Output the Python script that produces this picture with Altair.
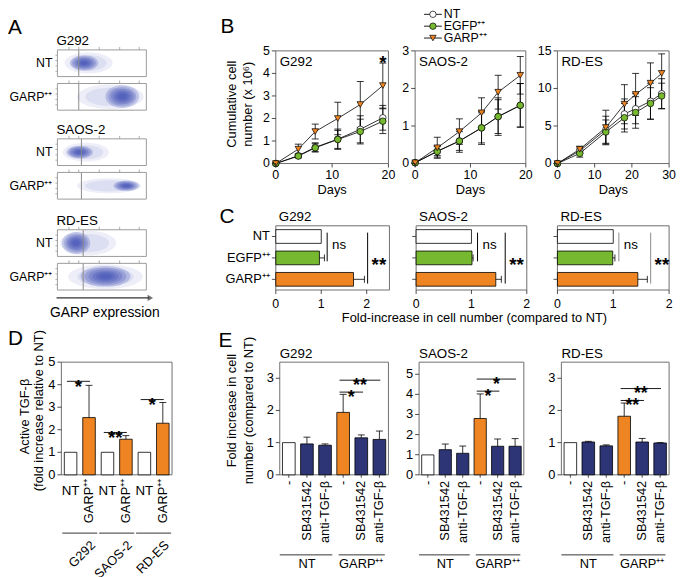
import altair as alt
import pandas as pd

FONT = "Liberation Sans"
ORANGE = "#EE8422"
GREEN = "#76B82F"
NAVY = "#2D3577"
WHITE = "#FFFFFF"
FRAME = "#6E6E6E"
CLOUD = "#3547B0"
TICK = "#222222"
W, H = 677, 569


def P(v):
    return v - 8


# ---------------- data ----------------
cell_lines = ["G292", "SAOS-2", "RD-ES"]
series = ["NT", "EGFP", "GARP"]
series_labels = ["NT", "EGFP⁺⁺", "GARP⁺⁺"]
series_fill = [WHITE, GREEN, ORANGE]
series_shape = ["circle", "circle", "triangle-down"]

# A: flow cytometry populations (% of axis range)
a_rows = ["NT", "GARP⁺⁺"]
a_gate = [24, 27, 29]
a_core_x = [[14, 46], [54, 92], [10, 40], [63, 92], [5, 37], [26, 82]]
a_core_y = [[22, 80], [8, 94], [26, 74], [30, 70], [8, 92], [12, 90]]
a_tail_x = [[8, 62], [22, 97], [6, 58], [22, 94], [3, 66], [12, 96]]
a_tail_y = [[12, 90], [4, 96], [15, 85], [22, 78], [4, 96], [4, 96]]
a_xticks = [13, 24, 47, 70, 92]
a_yticks = [20, 40, 60, 80]

# B: cumulative cell number
b_days = [[0, 4, 7, 11, 15, 19], [0, 4, 8, 12, 15, 19], [0, 6, 13, 18, 21, 25, 28]]
b_nt = [[0, 0.35, 0.72, 1.08, 1.52, 2.03], [0.02, 0.33, 0.6, 0.95, 1.25, 1.55], [0, 1.7, 4.5, 6.6, 7.3, 8.3, 9.3]]
b_nt_err = [[0, 0.08, 0.2, 0.45, 0.6, 0.55], [0, 0.12, 0.3, 0.44, 0.5, 0.58], [0, 0.35, 1.8, 2.0, 2.0, 2.4, 2.0]]
b_egfp = [[0, 0.33, 0.7, 1.07, 1.42, 1.88], [0.02, 0.32, 0.6, 0.95, 1.25, 1.55], [0, 1.35, 4.2, 6.1, 6.8, 8.0, 9.0]]
b_egfp_err = [[0, 0.08, 0.18, 0.4, 0.55, 0.55], [0, 0.15, 0.25, 0.4, 0.45, 0.58], [0, 0.5, 1.6, 1.9, 2.1, 2.1, 1.7]]
b_garp = [[0, 0.64, 1.42, 2.0, 2.62, 3.46], [0.02, 0.42, 0.85, 1.35, 1.9, 2.35], [0, 1.9, 4.8, 7.9, 9.2, 10.7, 12.0]]
b_garp_err = [[0, 0.22, 0.33, 0.72, 1.02, 1.0], [0, 0.28, 0.34, 0.4, 0.45, 0.5], [0, 0.4, 2.3, 2.6, 2.8, 2.7, 2.6]]
b_xmax = [20, 20, 30]
b_ymax = [5, 3, 15]
b_xticks = [[0, 10, 20], [0, 10, 20], [0, 10, 20, 30]]
b_yticks = [[0, 1, 2, 3, 4, 5], [0, 1, 2, 3], [0, 5, 10, 15]]
b_star = [19, 4.62]

# C: fold increase in cell number
c_vals = [[1.0, 0.96, 1.71], [1.0, 1.01, 1.44], [1.0, 0.99, 1.44]]
c_errs = [[0, 0.11, 0.24], [0, 0.02, 0.1], [0, 0.04, 0.17]]
c_xmax = [2.5, 2, 2]
c_xticks = [0, 1, 2]
c_ns_x = [1.13, 1.11, 1.10]
c_star_x = [2.02, 1.61, 1.67]
c_sig_col = ["black", "black", "#8A8A8A"]

# D: active TGF-beta
d_labels = ["NT", "GARP⁺⁺"] * 3
d_vals = [1.0, 2.54, 1.0, 1.58, 1.0, 2.29]
d_errs = [0, 1.43, 0, 0.16, 0, 0.92]
d_cols = [WHITE, ORANGE] * 3
d_ymax = 5
d_yticks = [0, 1, 2, 3, 4, 5]
d_sig_y = [4.15, 1.88, 3.34]
d_sig_txt = ["*", "**", "*"]

# E: inhibitors
e_labels = ["-", "SB431542", "anti-TGF-β", "-", "SB431542", "anti-TGF-β"]
e_groups = ["NT", "GARP⁺⁺"]
e_cols = [WHITE, NAVY, NAVY, ORANGE, NAVY, NAVY]
e_vals = [[1.0, 0.96, 0.92, 1.94, 1.15, 1.1], [0.99, 1.25, 1.07, 2.8, 1.42, 1.42], [1.0, 1.02, 0.9, 1.82, 1.02, 0.99]]
e_errs = [[0, 0.21, 0.04, 0.56, 0.09, 0.26], [0, 0.28, 0.36, 1.22, 0.36, 0.38], [0, 0.02, 0.03, 0.41, 0.11, 0.01]]
e_ymax = [3.5, 5.6, 3.5]
e_yticks = [[0, 1, 2, 3], [0, 1, 2, 3, 4, 5], [0, 1, 2, 3]]
e_sig_y = [[2.94, 2.57], [4.76, 4.16], [2.68, 2.31]]
e_sig_txt = [["**", "*"], ["*", "*"], ["**", "**"]]

# ---------------- layout (page pixels) ----------------
A_X = (58, 148)
A_Y = [(47, 74), (81, 108), (137, 164), (171, 198), (229, 256), (263, 290)]
B_X = [(279, 393), (420, 532), (564, 677)]
B_Y = (48, 162)
C_X = [(279, 394), (421, 533), (564, 677)]
C_Y = (225, 290)
D_X = (62, 174)
D_Y = (363, 477)
E_X = [(283, 393), (424, 530), (568, 677)]
E_Y = (363, 477)

ONE = pd.DataFrame({"k": [0]})


def txt(s, x, y, size=12.5, align="left", baseline="alphabetic", angle=0, bold=False, color="black"):
    mk = dict(text=s, font=FONT, fontSize=size, align=align, baseline=baseline, color=color,
              fontWeight="bold" if bold else "normal")
    if angle:
        mk["angle"] = angle
    return alt.Chart(ONE).mark_text(**mk).encode(x=alt.value(P(x)), y=alt.value(P(y)))


def lin(dom, rng):
    return alt.Scale(domain=dom, range=rng, nice=False, zero=False)


def fmt(v):
    return str(int(v)) if float(v).is_integer() else str(v)


def x_axis(xs, values, ybot, labels=None, tick=4, pad=2, size=12.5, angle=0, color=TICK, show=True):
    df = pd.DataFrame({"v": values, "t": labels if labels is not None else [fmt(v) for v in values]})
    out = []
    if tick > 0:
        out.append(alt.Chart(df).mark_rule(color=color, strokeWidth=0.8).encode(
            x=alt.X("v:Q", scale=xs, axis=None), y=alt.value(P(ybot)), y2=alt.value(P(ybot + tick))))
    if show:
        if angle:
            mk = alt.Chart(df).mark_text(font=FONT, fontSize=size, angle=angle, align="right", baseline="middle")
        else:
            mk = alt.Chart(df).mark_text(font=FONT, fontSize=size, align="center", baseline="top")
        out.append(mk.encode(x=alt.X("v:Q", scale=xs, axis=None), y=alt.value(P(ybot + tick + pad)), text="t:N"))
    return out


def y_axis(ys, values, xleft, labels=None, tick=4, pad=2, size=12.5, color=TICK, show=True):
    df = pd.DataFrame({"v": values, "t": labels if labels is not None else [fmt(v) for v in values]})
    out = [alt.Chart(df).mark_rule(color=color, strokeWidth=0.8).encode(
        y=alt.Y("v:Q", scale=ys, axis=None), x=alt.value(P(xleft - tick)), x2=alt.value(P(xleft)))]
    if show:
        out.append(alt.Chart(df).mark_text(font=FONT, fontSize=size, align="right", baseline="middle",
                                           color="black").encode(
            y=alt.Y("v:Q", scale=ys, axis=None), x=alt.value(P(xleft - tick - pad)), text="t:N"))
    return out


def frame_layer(xs, ys, xd, yd, color=FRAME):
    df = pd.DataFrame({"a": [xd[0]], "b": [xd[1]], "c": [yd[0]], "d": [yd[1]]})
    return alt.Chart(df).mark_rect(fill="white", fillOpacity=0, stroke=color, strokeWidth=1).encode(
        x=alt.X("a:Q", scale=xs, axis=None), x2="b:Q",
        y=alt.Y("c:Q", scale=ys, axis=None), y2="d:Q")


def ellipse_path(k):
    c = 0.5523
    return ("M-1,0C-1,{a} {m},{k} 0,{k}C{c},{k} 1,{a} 1,0C1,{b} {c},{nk} 0,{nk}C{m},{nk} -1,{b} -1,0Z"
            .format(a=f"{c*k:.4f}", b=f"{-c*k:.4f}", k=f"{k:.4f}", nk=f"{-k:.4f}", c=c, m=-c))


def caps(df, xf, yf, xs, ys, vertical):
    shape = "M0,-1L0,1" if vertical else "M-1,0L1,0"
    return alt.Chart(df).mark_point(shape=shape, size=49, color="black", strokeWidth=0.8,
                                    filled=False, opacity=1).encode(
        x=alt.X(xf, scale=xs, axis=None), y=alt.Y(yf, scale=ys, axis=None))


layers = []


# ---------------- Panel A ----------------
def panel_A(i):
    x0, x1 = A_X
    y0, y1 = A_Y[i]
    xs = lin([0, 100], [P(x0), P(x1)])
    ys = lin([0, 100], [P(y1), P(y0)])
    pxu = (x1 - x0) / 100.0
    pyu = (y1 - y0) / 100.0
    rows = []
    for bx, by, levels, alpha in [
        (a_tail_x[i], a_tail_y[i], [1.0, 0.75], 0.09),
        (a_core_x[i], a_core_y[i], [1.0, 0.84, 0.68, 0.53, 0.39, 0.26], 0.23),
    ]:
        rx = (bx[1] - bx[0]) / 2 * pxu
        ry = (by[1] - by[0]) / 2 * pyu
        path = ellipse_path(ry / rx)
        for s in levels:
            rows.append(dict(cx=(bx[0] + bx[1]) / 2, cy=(by[0] + by[1]) / 2, shp=path,
                             sz=(2 * rx * s) ** 2, op=alpha))
    clouds = alt.Chart(pd.DataFrame(rows)).mark_point(filled=True, color=CLOUD, strokeWidth=0).encode(
        x=alt.X("cx:Q", scale=xs, axis=None), y=alt.Y("cy:Q", scale=ys, axis=None),
        shape=alt.Shape("shp:N", scale=None), size=alt.Size("sz:Q", scale=None),
        opacity=alt.Opacity("op:Q", scale=None))
    gate = alt.Chart(pd.DataFrame({"g": [a_gate[i // 2]], "lo": [0], "hi": [100]})).mark_rule(
        color="#8A8A8A", strokeWidth=1).encode(
        x=alt.X("g:Q", scale=xs, axis=None), y=alt.Y("lo:Q", scale=ys, axis=None), y2="hi:Q")
    fr = frame_layer(xs, ys, [0, 100], [0, 100], color="#9A9A9A")
    tdf = pd.DataFrame({"v": a_xticks})
    top_ticks = alt.Chart(tdf).mark_rule(color="#999", strokeWidth=0.8).encode(
        x=alt.X("v:Q", scale=xs, axis=None), y=alt.value(P(y0 - 3)), y2=alt.value(P(y0)))
    ldf = pd.DataFrame({"v": a_yticks})
    left_ticks = alt.Chart(ldf).mark_rule(color="#999", strokeWidth=0.8).encode(
        y=alt.Y("v:Q", scale=ys, axis=None), x=alt.value(P(x0 - 2)), x2=alt.value(P(x0)))
    parts = [clouds, gate, fr, top_ticks, left_ticks]
    if i == 5:
        arrow = alt.Chart(pd.DataFrame({"a": [-1], "b": [103]})).mark_rule(color="#333", strokeWidth=1.3).encode(
            x=alt.X("a:Q", scale=xs, axis=None), x2="b:Q", y=alt.value(P(298)))
        head = alt.Chart(pd.DataFrame({"b": [104.5]})).mark_point(
            shape="triangle-right", filled=True, color="#333", size=40).encode(
            x=alt.X("b:Q", scale=xs, axis=None), y=alt.value(P(298)))
        parts += [arrow, head]
    return alt.layer(*parts)


for i in range(6):
    layers.append(panel_A(i))
for j, name in enumerate(cell_lines):
    layers.append(txt(name, 57, A_Y[2 * j][0] - 5, size=13.5))
    for r, lab in enumerate(a_rows):
        y0, y1 = A_Y[2 * j + r]
        layers.append(txt(lab, 53, (y0 + y1) / 2, size=12.5, align="right", baseline="middle"))
layers.append(txt("GARP expression", 106, 317, size=14, align="center"))


# ---------------- Panel B ----------------
def panel_B(i):
    x0, x1 = B_X[i]
    y0, y1 = B_Y
    xs = lin([0, b_xmax[i]], [P(x0), P(x1)])
    ys = lin([0, b_ymax[i]], [P(y1), P(y0)])
    recs = []
    for s, v, e in zip(series, [b_nt[i], b_egfp[i], b_garp[i]], [b_nt_err[i], b_egfp_err[i], b_garp_err[i]]):
        for d, vv, ee in zip(b_days[i], v, e):
            recs.append(dict(series=s, day=d, v=vv, lo=vv - ee, hi=vv + ee, err=ee))
    df = pd.DataFrame(recs)
    X = lambda f: alt.X(f, scale=xs, axis=None)
    Yq = lambda f: alt.Y(f, scale=ys, axis=None)
    fr = frame_layer(xs, ys, [0, b_xmax[i]], [0, b_ymax[i]])
    ed = df[df.err > 0]
    bars = alt.Chart(ed).mark_rule(color="black", strokeWidth=0.8).encode(x=X("day:Q"), y=Yq("lo:Q"), y2="hi:Q")
    capdf = pd.concat([ed.assign(cap=ed.lo), ed.assign(cap=ed.hi)])
    cp = caps(capdf, "day:Q", "cap:Q", xs, ys, vertical=False)
    line = alt.Chart(df).mark_line(color="black", strokeWidth=0.8).encode(
        x=X("day:Q"), y=Yq("v:Q"), detail="series:N", order="day:Q")
    pts = alt.Chart(df).mark_point(filled=True, size=44, stroke="black", strokeWidth=0.7, opacity=1).encode(
        x=X("day:Q"), y=Yq("v:Q"),
        fill=alt.Fill("series:N", scale=alt.Scale(domain=series, range=series_fill), legend=None),
        shape=alt.Shape("series:N", scale=alt.Scale(domain=series, range=series_shape), legend=None))
    parts = [fr, bars, cp, line, pts]
    parts += x_axis(xs, b_xticks[i], y1, tick=4, pad=2, size=12.5)
    parts += y_axis(ys, b_yticks[i], x0, tick=4, pad=2, size=12.5)
    if i == 0:
        star = alt.Chart(pd.DataFrame({"d": [b_star[0]], "v": [b_star[1]]})).mark_text(
            text="*", font=FONT, fontSize=19, fontWeight="bold", baseline="middle", dy=4).encode(
            x=X("d:Q"), y=Yq("v:Q"))
        parts.append(star)
    return alt.layer(*parts)


for i in range(3):
    layers.append(panel_B(i))
    layers.append(txt(cell_lines[i], B_X[i][0] + 4, 63, size=13.5))
    layers.append(txt("Days", (B_X[i][0] + B_X[i][1]) / 2, 193, size=13, align="center"))
layers.append(txt("Cumulative cell", 235, 102, size=13, angle=270, align="center", baseline="middle"))
layers.append(txt("number (x 10⁶)", 251, 102, size=13, angle=270, align="center", baseline="middle"))

# legend of B
leg = pd.DataFrame({"series": series, "label": series_labels})
ly = alt.Y("series:N", scale=alt.Scale(type="point", domain=series, range=[P(11), P(35)], padding=0),
           axis=None)
leg_line = alt.Chart(leg).mark_rule(color="black", strokeWidth=0.9).encode(
    x=alt.value(P(429)), x2=alt.value(P(447)), y=ly)
leg_pt = alt.Chart(leg).mark_point(filled=True, size=42, stroke="black", strokeWidth=0.7, opacity=1).encode(
    x=alt.value(P(438)), y=ly,
    fill=alt.Fill("series:N", scale=alt.Scale(domain=series, range=series_fill), legend=None),
    shape=alt.Shape("series:N", scale=alt.Scale(domain=series, range=series_shape), legend=None))
leg_tx = alt.Chart(leg).mark_text(align="left", baseline="middle", fontSize=12.5, font=FONT).encode(
    x=alt.value(P(449)), y=ly, text="label:N")
layers.append(alt.layer(leg_line, leg_pt, leg_tx))


# ---------------- Panel C ----------------
def panel_C(i):
    x0, x1 = C_X[i]
    y0, y1 = C_Y
    xs = lin([0, c_xmax[i]], [P(x0), P(x1)])
    ys = lin([-0.5, 2.5], [P(y0), P(y1)])
    df = pd.DataFrame({"idx": [0, 1, 2], "v": c_vals[i], "e": c_errs[i], "col": series_fill})
    df["z"] = 0.0
    df["lo"] = df.idx - 0.32
    df["hi"] = df.idx + 0.32
    df["end"] = df.v + df.e
    X = lambda f: alt.X(f, scale=xs, axis=None)
    Yq = lambda f: alt.Y(f, scale=ys, axis=None)
    fr = frame_layer(xs, ys, [0, c_xmax[i]], [-0.5, 2.5])
    bars = alt.Chart(df).mark_rect(stroke="black", strokeWidth=0.8).encode(
        x=X("z:Q"), x2="v:Q", y=Yq("lo:Q"), y2="hi:Q", fill=alt.Fill("col:N", scale=None))
    ed = df[df.e > 0]
    er = alt.Chart(ed).mark_rule(color="black", strokeWidth=0.8).encode(x=X("v:Q"), x2="end:Q", y=Yq("idx:Q"))
    cp = caps(ed, "end:Q", "idx:Q", xs, ys, vertical=True)
    sig = pd.DataFrame({"x": [c_ns_x[i], c_star_x[i]], "a": [-0.18, -0.18], "b": [1.16, 2.2]})
    sl = alt.Chart(sig).mark_rule(color=c_sig_col[i], strokeWidth=1).encode(x=X("x:Q"), y=Yq("a:Q"), y2="b:Q")
    ns = alt.Chart(pd.DataFrame({"x": [c_ns_x[i]], "y": [0.42]})).mark_text(
        text="ns", font=FONT, fontSize=13.5, align="left", baseline="middle", dx=5).encode(x=X("x:Q"), y=Yq("y:Q"))
    st = alt.Chart(pd.DataFrame({"x": [c_star_x[i]], "y": [0.84]})).mark_text(
        text="**", font=FONT, fontSize=19, fontWeight="bold", align="left", dx=4, dy=11).encode(
        x=X("x:Q"), y=Yq("y:Q"))
    parts = [fr, bars, er, cp, sl, ns, st]
    parts += x_axis(xs, c_xticks, y1, tick=4, pad=4, size=12.5)
    parts += y_axis(ys, [0, 1, 2], x0, labels=series_labels, tick=4, pad=2, size=13, show=(i == 0))
    return alt.layer(*parts)


for i in range(3):
    layers.append(panel_C(i))
    layers.append(txt(cell_lines[i], C_X[i][0] + 3, 220, size=13.5))
layers.append(txt("Fold-increase in cell number (compared to NT)", 480, 322, size=13, align="center"))


# ---------------- Panel D ----------------
def panel_D():
    x0, x1 = D_X
    y0, y1 = D_Y
    xs = lin([-0.5, 5.5], [P(x0), P(x1)])
    ys = lin([0, d_ymax], [P(y1), P(y0)])
    df = pd.DataFrame({"idx": list(range(6)), "v": d_vals, "e": d_errs, "col": d_cols, "lab": d_labels})
    df["z"] = 0.0
    df["lo"] = df.idx - 0.34
    df["hi"] = df.idx + 0.34
    df["top"] = df.v + df.e
    X = lambda f: alt.X(f, scale=xs, axis=None)
    Yq = lambda f: alt.Y(f, scale=ys, axis=None)
    fr = frame_layer(xs, ys, [-0.5, 5.5], [0, d_ymax])
    bars = alt.Chart(df).mark_rect(stroke="black", strokeWidth=0.8).encode(
        x=X("lo:Q"), x2="hi:Q", y=Yq("z:Q"), y2="v:Q", fill=alt.Fill("col:N", scale=None))
    ed = df[df.e > 0]
    er = alt.Chart(ed).mark_rule(color="black", strokeWidth=0.8).encode(x=X("idx:Q"), y=Yq("v:Q"), y2="top:Q")
    cp = caps(ed, "idx:Q", "top:Q", xs, ys, vertical=False)
    nt = df[df.idx % 2 == 0]
    ntl = alt.Chart(nt).mark_text(font=FONT, fontSize=13.5, align="center", baseline="top").encode(
        x=X("idx:Q"), y=alt.value(P(486)), text="lab:N")
    glab = df[df.idx % 2 == 1]
    gl = alt.Chart(glab).mark_text(font=FONT, fontSize=13, angle=270, align="right", baseline="middle").encode(
        x=X("idx:Q"), y=alt.value(P(481)), text="lab:N")
    grp = pd.DataFrame({"name": cell_lines, "g": [0, 1, 2]})
    grp["a"] = grp.g * 2 - 0.45
    grp["b"] = grp.g * 2 + 1.45
    gline = alt.Chart(grp).mark_rule(color="black", strokeWidth=0.8).encode(
        x=X("a:Q"), x2="b:Q", y=alt.value(P(536)))
    gtext = alt.Chart(grp).mark_text(font=FONT, fontSize=13, angle=315, align="right", baseline="middle",
                                     dx=-6).encode(x=X("b:Q"), y=alt.value(P(542)), text="name:N")
    sig = pd.DataFrame({"g": [0, 1, 2], "y": d_sig_y, "t": d_sig_txt})
    sig["a"] = sig.g * 2 - 0.2
    sig["b"] = sig.g * 2 + 1.05
    sig["m"] = (sig.a + sig.b) / 2
    sl = alt.Chart(sig).mark_rule(color="black", strokeWidth=0.9).encode(x=X("a:Q"), x2="b:Q", y=Yq("y:Q"))
    stx = alt.Chart(sig).mark_text(font=FONT, fontSize=19, fontWeight="bold", align="center", dy=6).encode(
        x=X("m:Q"), y=Yq("y:Q"), text="t:N")
    tk = pd.DataFrame({"v": d_yticks, "t": [fmt(v) for v in d_yticks]})
    ticks = alt.Chart(tk).mark_rule(color=TICK, strokeWidth=0.8).encode(
        y=Yq("v:Q"), x=alt.value(P(x0 - 4)), x2=alt.value(P(x0)))
    tlab = alt.Chart(tk).mark_text(font=FONT, fontSize=13, align="right", baseline="middle", color="black",
                                   dx=-6).encode(y=Yq("v:Q"), x=alt.value(P(x0)), text="t:N")
    parts = [fr, bars, er, cp, ntl, gl, gline, gtext, sl, stx, ticks, tlab]
    return alt.layer(*parts)


layers.append(panel_D())
layers.append(txt("Active TGF-β", 25, 418, size=13, angle=270, align="center", baseline="middle"))
layers.append(txt("(fold increase relative to NT)", 39, 412, size=13, angle=270, align="center", baseline="middle"))


# ---------------- Panel E ----------------
def panel_E(i):
    x0, x1 = E_X[i]
    y0, y1 = E_Y
    xs = lin([-0.5, 5.5], [P(x0), P(x1)])
    ys = lin([0, e_ymax[i]], [P(y1), P(y0)])
    df = pd.DataFrame({"idx": list(range(6)), "v": e_vals[i], "e": e_errs[i], "col": e_cols})
    df["z"] = 0.0
    df["lo"] = df.idx - 0.35
    df["hi"] = df.idx + 0.35
    df["top"] = df.v + df.e
    X = lambda f: alt.X(f, scale=xs, axis=None)
    Yq = lambda f: alt.Y(f, scale=ys, axis=None)
    fr = frame_layer(xs, ys, [-0.5, 5.5], [0, e_ymax[i]])
    bars = alt.Chart(df).mark_rect(stroke="black", strokeWidth=0.8).encode(
        x=X("lo:Q"), x2="hi:Q", y=Yq("z:Q"), y2="v:Q", fill=alt.Fill("col:N", scale=None))
    ed = df[df.e > 0]
    er = alt.Chart(ed).mark_rule(color="black", strokeWidth=0.8).encode(x=X("idx:Q"), y=Yq("v:Q"), y2="top:Q")
    cp = caps(ed, "idx:Q", "top:Q", xs, ys, vertical=False)
    grp = pd.DataFrame({"name": e_groups, "a": [-0.5, 2.75], "b": [2.4, 5.3], "m": [1.0, 4.0]})
    gline = alt.Chart(grp).mark_rule(color="black", strokeWidth=0.8).encode(
        x=X("a:Q"), x2="b:Q", y=alt.value(P(558)))
    gtext = alt.Chart(grp).mark_text(font=FONT, fontSize=13, align="center", baseline="middle").encode(
        x=X("m:Q"), y=alt.value(P(567)), text="name:N")
    sig = pd.DataFrame({"y": e_sig_y[i], "t": e_sig_txt[i], "a": [2.8, 2.8], "b": [5.05, 4.1]})
    sig["m"] = (sig.a + sig.b) / 2
    sl = alt.Chart(sig).mark_rule(color="black", strokeWidth=0.9).encode(x=X("a:Q"), x2="b:Q", y=Yq("y:Q"))
    stx = alt.Chart(sig).mark_text(font=FONT, fontSize=18, fontWeight="bold", align="center", dy=6).encode(
        x=X("m:Q"), y=Yq("y:Q"), text="t:N")
    parts = [fr, bars, er, cp, gline, gtext, sl, stx]
    parts += x_axis(xs, list(range(6)), y1, labels=e_labels, tick=3, pad=3, size=13, angle=270)
    parts += y_axis(ys, e_yticks[i], x0, tick=4, pad=2, size=13)
    return alt.layer(*parts)


for i in range(3):
    layers.append(panel_E(i))
    layers.append(txt(cell_lines[i], E_X[i][0], 359, size=13.5))
layers.append(txt("Fold increase in cell", 235, 412, size=13, angle=270, align="center", baseline="middle"))
layers.append(txt("number (compared to NT)", 252, 412, size=13, angle=270, align="center", baseline="middle"))

# panel letters
for s, x, y in [("A", 8, 31), ("B", 223, 30), ("C", 222, 222), ("D", 8, 346), ("E", 221, 348)]:
    layers.append(txt(s, x, y, size=21))

chart = alt.layer(*layers).properties(
    width=W, height=H, padding=0, autosize="none"
).resolve_scale(
    x="independent", y="independent", fill="independent", shape="independent",
    size="independent", opacity="independent", color="independent", stroke="independent"
).configure(font=FONT).configure_view(stroke=None)

chart.save("out.html", embed_options={"renderer": "svg", "actions": False})
